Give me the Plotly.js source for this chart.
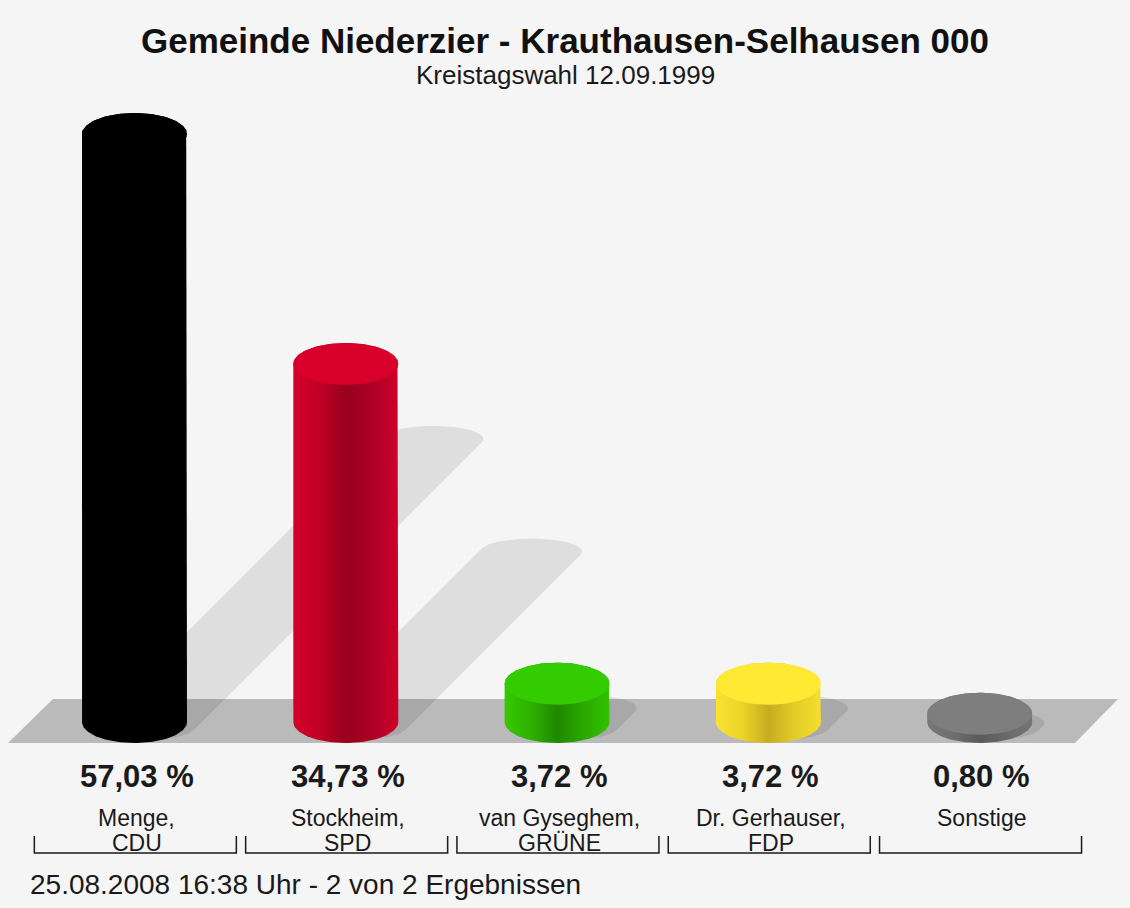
<!DOCTYPE html>
<html>
<head>
<meta charset="utf-8">
<script src="https://cdn.plot.ly/plotly-3.0.1.min.js"></script>
<style>html,body{margin:0;padding:0;background:#f5f5f5}</style>
</head>
<body>
<div id="chart" style="width:1130px;height:908px"></div>
<script>
// Kreistagswahl 12.09.1999, Krauthausen-Selhausen
var names = ['Menge,', 'Stockheim,', 'van Gyseghem,', 'Dr. Gerhauser,', 'Sonstige'];
var parties = ['CDU', 'SPD', 'GRÜNE', 'FDP', ''];
var shares = [57.03, 34.73, 3.72, 3.72, 0.80];
var topColors = ['#000000', '#d8002a', '#33cc00', '#ffe933', '#7e7e7e'];
var sideColors = [
  ['#000000', '#000000', '#000000', '#000000', '#000000'],
  ['#d2002a', '#c20026', '#96001d', '#ae0024', '#cf002a'],
  ['#36c800', '#2db200', '#1f8800', '#2aa800', '#33c200'],
  ['#f8e230', '#eed42a', '#c6ac1e', '#e4cc28', '#f4de30'],
  ['#787878', '#6e6e6e', '#5a5a5a', '#6a6a6a', '#747474']
];

// pixel layout of the picture
var pxX = 211.3, pxY = 10.31, x0 = 134.5, y0 = 722;
var ra = 52.5 / pxX, rb = 21 / pxY;
function dy(px) { return (y0 - px) / pxY; }
function dx(px) { return (px - x0) / pxX; }

// outline of an ellipse swept along (ox, oy)
function sweep(cx, cy, a, b, ox, oy) {
  var xs = [], ys = [];
  for (var k = 0; k <= 144; k++) {
    var t = k / 144 * 2 * Math.PI;
    var c = Math.cos(t), s = Math.sin(t);
    var on = (c / a) * ox + (s / b) * oy > 0;
    xs.push(cx + a * c + (on ? ox : 0));
    ys.push(cy + b * s + (on ? oy : 0));
  }
  return {x: xs, y: ys};
}

var traces = [];

// floor
traces.push({
  x: [dx(8), dx(53), dx(1118), dx(1075), dx(8)],
  y: [dy(743), dy(699), dy(699), dy(743), dy(743)],
  mode: 'lines', fill: 'toself', fillcolor: '#bababa', line: {width: 0}
});

// shadows
shares.forEach(function (v, i) {
  var k = 0.49;
  var s = sweep(i + 10 / pxX, -5 / pxY, ra * 0.97, 13 / pxY, k * v * pxY / pxX, k * v);
  traces.push({x: s.x, y: s.y, mode: 'lines', fill: 'toself',
    fillcolor: 'rgba(0,0,0,0.095)', line: {width: 0}});
});

// cylinders
shares.forEach(function (v, i) {
  var body = sweep(i, 0, ra, rb, 0, v);
  var scale = sideColors[i].map(function (c, j) { return [j / 4, c]; });
  traces.push({x: body.x, y: body.y, mode: 'lines', fill: 'toself',
    fillcolor: sideColors[i][0],
    fillgradient: {type: 'horizontal', colorscale: scale},
    line: {width: 0}});
  var cap = sweep(i, v, ra, rb, 0, 0);
  traces.push({x: cap.x, y: cap.y, mode: 'lines', fill: 'toself',
    fillcolor: topColors[i], line: {width: 0}});
});

// brackets under the names
var bx = [], by = [];
shares.forEach(function (v, i) {
  bx.push(i - 0.474, i - 0.474, i + 0.482, i + 0.482, null);
  by.push(dy(836), dy(853), dy(853), dy(836), null);
});
traces.push({x: bx, y: by, mode: 'lines', line: {color: '#1a1a1a', width: 1.5}});

var font = 'Liberation Sans, Arial, Helvetica, sans-serif';
function note(x, xref, ypx, text, size, extra) {
  var n = {x: x, y: 1 - ypx / 908, xref: xref, yref: 'paper', showarrow: false,
    xanchor: 'center', yanchor: 'middle', text: text,
    font: {family: font, size: size, color: '#1a1a1a'}};
  for (var key in extra) n[key] = extra[key];
  return n;
}
var notes = [];
shares.forEach(function (v, i) {
  notes.push(note(i + 0.01, 'x', 776, v.toFixed(2).replace('.', ',') + ' %', 31,
    {font: {family: font, size: 31, color: '#1a1a1a', weight: 'bold'}}));
  notes.push(note(i + 0.01, 'x', 818, names[i], 23));
  notes.push(note(i + 0.01, 'x', 843, parties[i], 23));
});
notes.push(note(0.5, 'paper', 75, 'Kreistagswahl 12.09.1999', 26));
notes.push(note(28 / 1130, 'paper', 884, '25.08.2008 16:38 Uhr - 2 von 2 Ergebnissen', 28,
  {xanchor: 'left'}));

var layout = {
  width: 1130, height: 908,
  margin: {l: 0, r: 0, t: 0, b: 0},
  paper_bgcolor: '#f5f5f5', plot_bgcolor: '#f5f5f5',
  showlegend: false, hovermode: false,
  title: {text: 'Gemeinde Niederzier - Krauthausen-Selhausen 000',
    x: 0.5, xanchor: 'center', y: 1 - 41 / 908, yref: 'container', yanchor: 'middle',
    font: {family: font, size: 35, color: '#111', weight: 'bold'}},
  xaxis: {visible: false, range: [dx(0), dx(1130)], fixedrange: true},
  yaxis: {visible: false, range: [dy(908), dy(0)], fixedrange: true},
  annotations: notes
};

Plotly.newPlot('chart', traces, layout, {staticPlot: true});
</script>
</body>
</html>
